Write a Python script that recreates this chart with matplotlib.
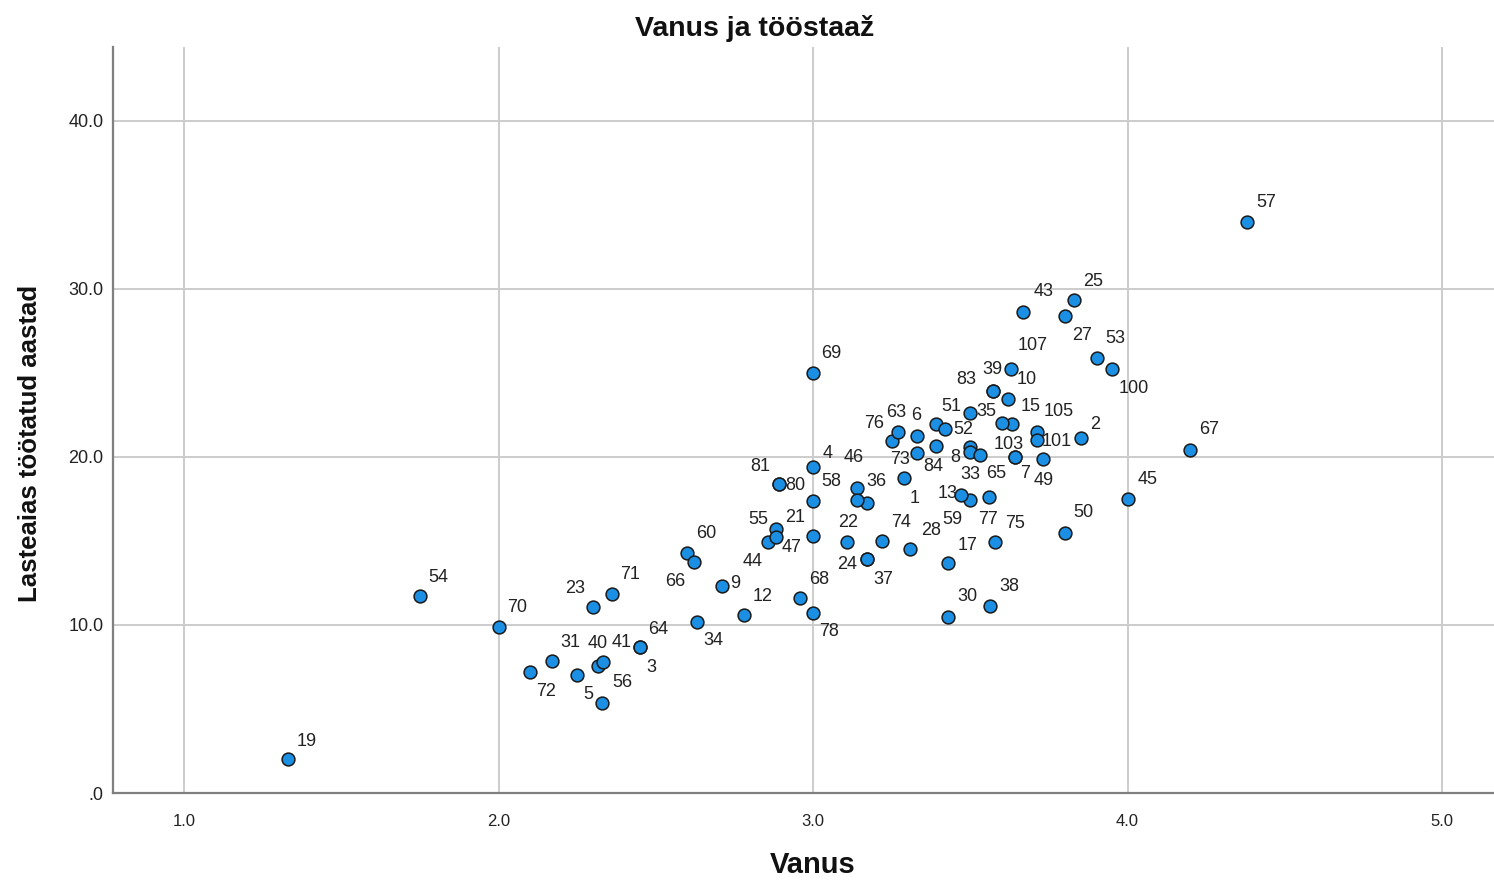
import matplotlib
matplotlib.use("Agg")
import matplotlib.pyplot as plt

# ---- data ----
labels = ["19", "54", "70", "23", "71", "31", "72", "5", "56", "40", "41", "64", "3",
          "60", "66", "34", "9", "44", "55", "47", "21", "12", "68", "78", "81", "80",
          "4", "58", "46", "36", "", "22", "24", "37", "74", "28", "17", "59", "30",
          "38", "69", "73", "1", "76", "63", "6", "51", "52", "84", "35", "8", "33",
          "65", "13", "77", "75", "50", "45", "67", "57", "43", "25", "27", "53",
          "100", "107", "39", "83", "10", "15", "", "105", "101", "103", "7", "49", "2"]
vanus = [1.331, 1.750, 2.000, 2.300, 2.360, 2.169, 2.100, 2.250, 2.328, 2.317, 2.331,
         2.450, 2.450, 2.600, 2.620, 2.630, 2.710, 2.858, 2.882, 2.882, 3.000, 2.780,
         2.960, 3.000, 2.893, 2.893, 3.000, 3.000, 3.139, 3.171, 3.139, 3.107, 3.171,
         3.171, 3.220, 3.308, 3.430, 3.500, 3.430, 3.561, 3.000, 3.332, 3.290, 3.250,
         3.271, 3.330, 3.391, 3.420, 3.391, 3.500, 3.500, 3.500, 3.530, 3.470, 3.560,
         3.580, 3.800, 4.000, 4.200, 4.381, 3.669, 3.831, 3.800, 3.902, 3.950, 3.629,
         3.571, 3.571, 3.621, 3.632, 3.600, 3.711, 3.711, 3.642, 3.642, 3.732, 3.851]
aastad = [2.02, 11.74, 9.90, 11.09, 11.85, 7.86, 7.22, 7.02, 5.38, 7.58, 7.82,
          8.67, 8.67, 14.27, 13.77, 10.20, 12.32, 14.96, 15.70, 15.22, 15.30, 10.60,
          11.59, 10.70, 18.37, 18.37, 19.42, 17.38, 18.14, 17.24, 17.44, 14.96, 13.91,
          13.91, 15.02, 14.52, 13.67, 17.44, 10.46, 11.13, 25.02, 20.26, 18.73, 20.97,
          21.51, 21.27, 21.95, 21.67, 20.67, 22.64, 20.58, 20.32, 20.12, 17.74, 17.60,
          14.92, 15.46, 17.50, 20.42, 34.01, 28.65, 29.35, 28.39, 25.87, 25.22, 25.24,
          23.95, 23.95, 23.43, 21.95, 22.01, 21.47, 21.01, 19.98, 19.98, 19.86, 21.11]

# label placement offsets (pixels, style only)
label_dx = [19, 18, 18.7, -17.7, 18.3, 18.3, 16, 10.7, 20.3, -0.3, 19, 18, 11.7,
            19.3, -18.3, 16.3, 13.3, -15.3, -18, 15.7, -18.3, 18.7, 18.6, 15.7, -19.3, 15.7,
            14.7, 18.4, -2.7, 10, 0, 1.3, -20, 16.3, 18.7, 20.7, 19, -18, 18.7,
            19.7, 18.4, -17.3, 10.7, -17.4, -2.3, -0.7, 15.7, 18, -3, 16, -15, 0,
            16.7, -13, -1.3, 20, 19, 20.5, 18.3, 18.7, 20, 18.8, 17.2, 18.3,
            21.6, 22, 0, -26, 18.4, 19, 0, 22.3, 20, -6, 10, 0, 14.3]
label_dy = [18, 18.7, 18.7, 17.7, 19, 18, -20.3, -19, 19.7, 21.7, 19, 18.3, -19.7,
            19.3, -20, -19.3, 3, -20.3, 9.3, -10.7, 18, 18.3, 18.3, -18.4, 17.6, -0.7,
            13.7, 19.3, 30.3, 21.6, 0, 19, -5.7, -20.7, 17.7, 18.3, 18.3, -20, 20.3,
            19, 19.4, -7.3, -19.7, 17.4, 19, 19.7, 17.6, -1, -21, 1, -10.7, -23.3,
            -19, 1, -22.7, 19.3, 20.3, 19, 20, 19, 20, 18.3, -20, 20,
            -19, 23, 20.7, 10.7, 20, 17.6, 0, 20.6, -1.7, 12.3, -16.7, -21.4, 14.3]

x_ticks = [1.0, 2.0, 3.0, 4.0, 5.0]
x_ticklabels = ["1.0", "2.0", "3.0", "4.0", "5.0"]
y_ticks = [0, 10, 20, 30, 40]
y_ticklabels = [".0", "10.0", "20.0", "30.0", "40.0"]

title = "Vanus ja tööstaaž"
xlabel = "Vanus"
ylabel = "Lasteaias töötatud aastad"

# ---- figure ----
plt.rcParams['font.family'] = ['Liberation Sans', 'DejaVu Sans']
fig = plt.figure(figsize=(14.94, 8.83), dpi=100)
ax = fig.add_axes([113/1494, 1 - 793/883, 1 - 113/1494, (793 - 47)/883])

ax.set_xlim(0.7742, 5.165)
ax.set_ylim(0, 44.4)

ax.set_xticks(x_ticks)
ax.set_xticklabels(x_ticklabels)
ax.set_yticks(y_ticks)
ax.set_yticklabels(y_ticklabels)
ax.tick_params(axis='both', length=0, colors='#222222')
ax.tick_params(axis='x', pad=15, labelsize=12)
ax.tick_params(axis='y', pad=7, labelsize=13)

ax.grid(True, color='#cccccc', linewidth=1.4, zorder=0)
ax.set_axisbelow(True)
for s in ['top', 'right']:
    ax.spines[s].set_visible(False)
for s in ['left', 'bottom']:
    ax.spines[s].set_color('#808080')
    ax.spines[s].set_linewidth(1.6)

ax.scatter(vanus, aastad, s=85, c='#1a8fe3', edgecolors='#1a1a1a',
           linewidths=1.1, zorder=3)

for lab, xv, yv, dx, dy in zip(labels, vanus, aastad, label_dx, label_dy):
    if lab:
        ax.annotate(lab, (xv, yv), xytext=(dx, dy), textcoords='offset pixels',
                    ha='center', va='center', fontsize=13, color='#222222', zorder=4)

fig.text(755/1494, 1 - 29/883, title, ha='center', va='center',
         fontsize=20.5, fontweight='bold', color='#111111')
fig.text(813/1494, 1 - 865/883, xlabel, ha='center', va='center',
         fontsize=21, fontweight='bold', color='#111111')
fig.text(30/1494, 1 - 443/883, ylabel, ha='center', va='center', rotation=90,
         fontsize=18.5, fontweight='bold', color='#111111')

fig.savefig("out.png", dpi=100)
